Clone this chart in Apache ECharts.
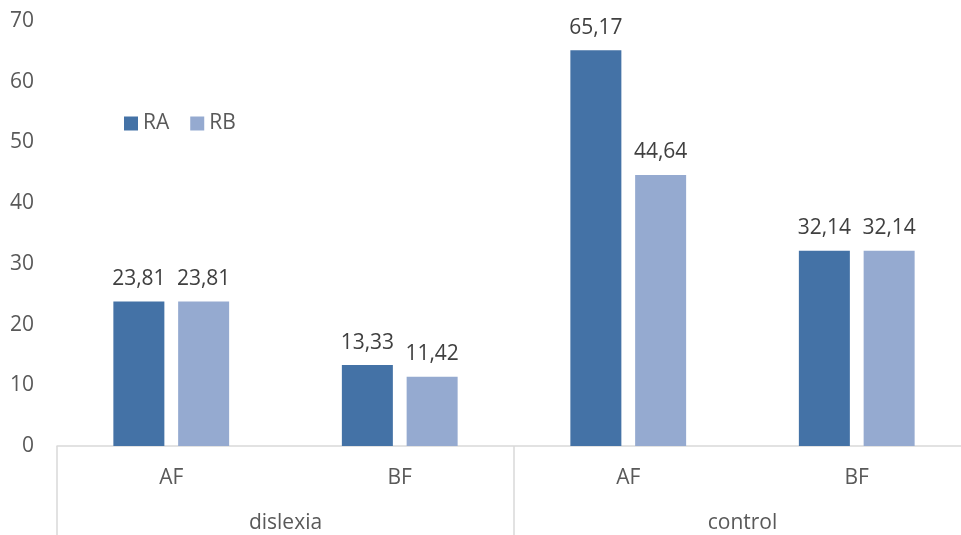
<!DOCTYPE html>
<html>
<head>
<meta charset="utf-8">
<script src="https://cdn.jsdelivr.net/npm/echarts@6/dist/echarts.min.js"></script>
<style>
  html, body { margin: 0; padding: 0; background: #fff; }
  #chart { width: 961px; height: 535px; }
</style>
</head>
<body>
<div id="chart"></div>
<script>
// Fluency categories, grouped by participant group
const categories = ['AF', 'BF', 'AF', 'BF'];
const groups = ['dislexia', 'control'];
const seriesNames = ['RA', 'RB'];
const valuesRA = [23.81, 13.33, 65.17, 32.14];
const valuesRB = [23.81, 11.42, 44.64, 32.14];
const yTicks = { min: 0, max: 70, interval: 10 };

const FONT = '"Open Sans", sans-serif';
const AXIS_GREY = '#595959';
const LINE_GREY = '#d9d9d9';
const FS = 21;

const fmt = v => String(v.toFixed(2)).replace('.', ',');

const chart = echarts.init(document.getElementById('chart'), null, { renderer: 'canvas' });

const barLabel = {
  show: true,
  position: 'top',
  distance: 12,
  color: '#404040',
  fontFamily: FONT,
  fontSize: FS,
  formatter: p => fmt(p.value)
};

chart.setOption({
  animation: false,
  backgroundColor: '#fff',
  textStyle: { fontFamily: FONT },
  legend: {
    left: 124,
    top: 113,
    padding: 0,
    itemWidth: 14,
    itemHeight: 14,
    itemGap: 21,
    icon: 'rect',
    textStyle: { color: AXIS_GREY, fontSize: FS, fontFamily: FONT },
    data: seriesNames
  },
  // the plot runs slightly past the right edge of the canvas
  grid: { left: 57, top: 21, width: 914, bottom: 89, containLabel: false, outerBoundsMode: 'none' },
  xAxis: [
    {
      type: 'category',
      data: categories,
      position: 'bottom',
      offset: 0,
      axisLine: { show: true, lineStyle: { color: LINE_GREY, width: 1.5 } },
      axisTick: { show: false },
      axisLabel: { color: AXIS_GREY, fontSize: FS, fontFamily: FONT, margin: 22, interval: 0 }
    },
    {
      type: 'category',
      data: groups,
      position: 'bottom',
      offset: 0,
      axisLine: { show: false },
      axisTick: { show: true, length: 95, alignWithLabel: false, interval: 0, lineStyle: { color: LINE_GREY, width: 1.5 } },
      axisLabel: { color: AXIS_GREY, fontSize: FS, fontFamily: FONT, margin: 67, interval: 0 }
    }
  ],
  yAxis: {
    type: 'value',
    min: yTicks.min,
    max: yTicks.max,
    interval: yTicks.interval,
    axisLine: { show: false },
    axisTick: { show: false },
    splitLine: { show: false },
    axisLabel: { color: AXIS_GREY, fontSize: FS, fontFamily: FONT, margin: 23 }
  },
  series: [
    {
      name: seriesNames[0],
      type: 'bar',
      xAxisIndex: 0,
      data: valuesRA,
      barWidth: 51,
      barGap: '27%',
      itemStyle: { color: '#4472a6' },
      label: barLabel
    },
    {
      name: seriesNames[1],
      type: 'bar',
      xAxisIndex: 0,
      data: valuesRB,
      barWidth: 51,
      barGap: '27%',
      itemStyle: { color: '#95aad0' },
      label: barLabel
    }
  ]
});
</script>
</body>
</html>
